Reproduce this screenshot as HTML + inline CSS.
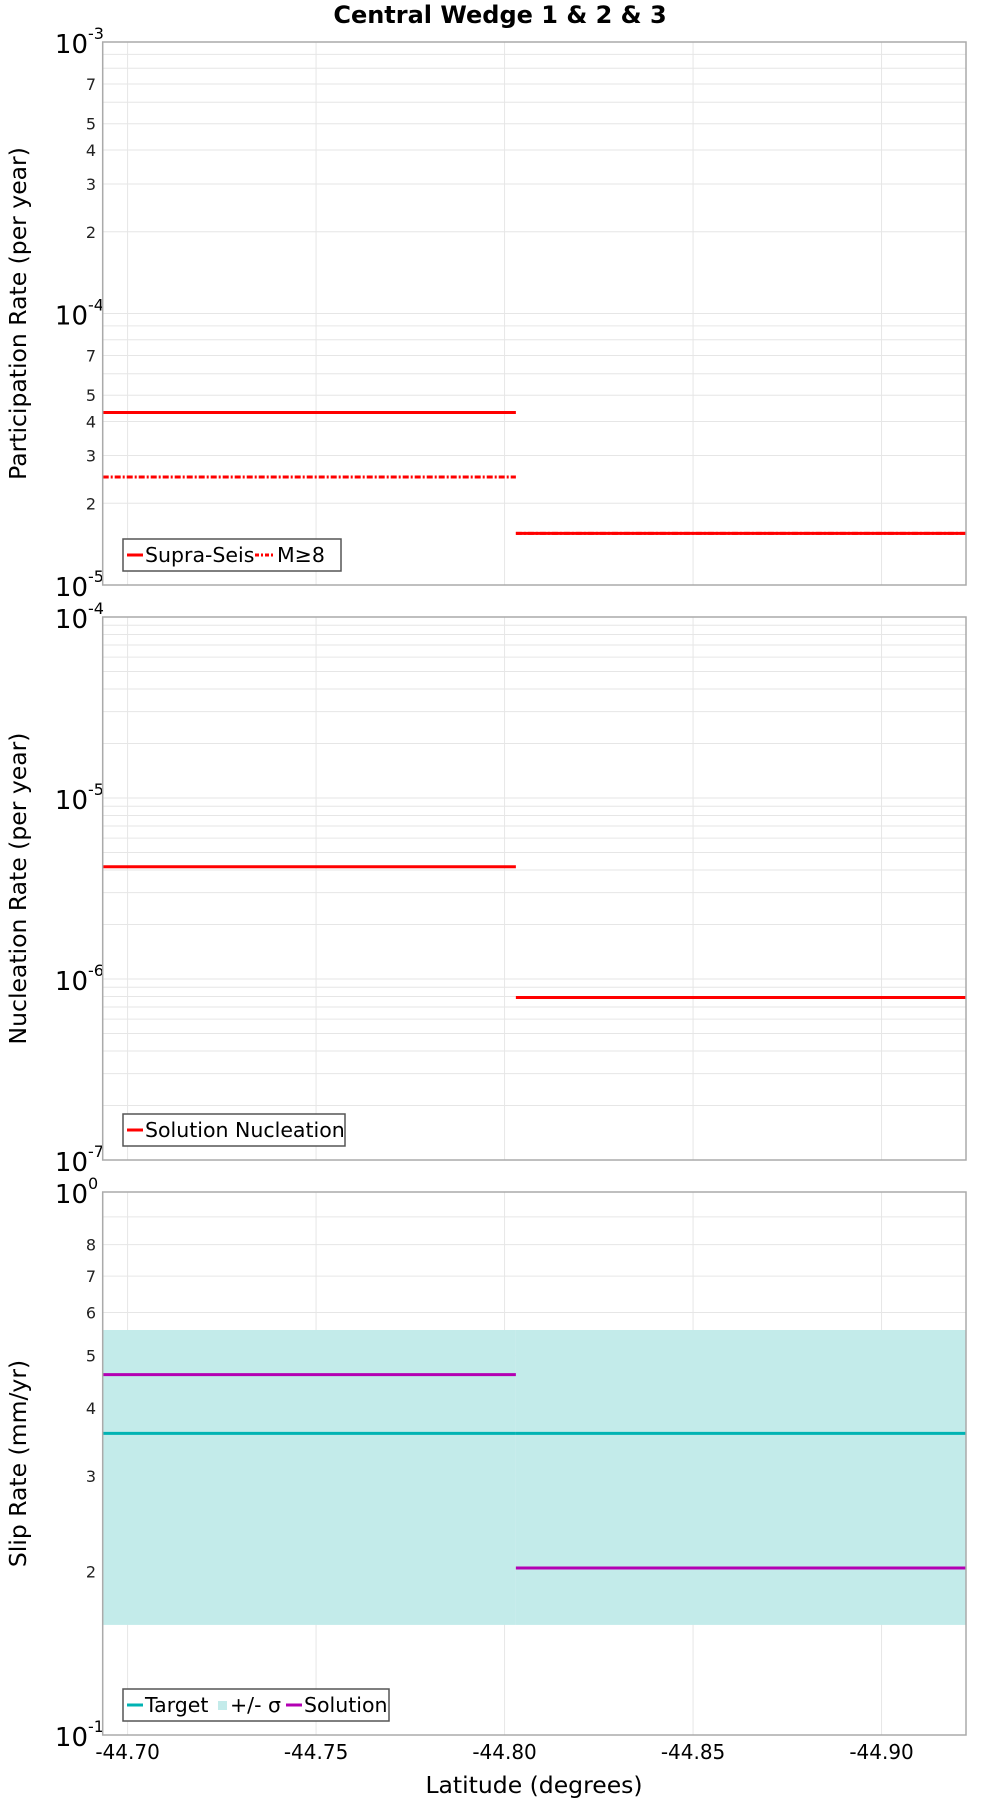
<!DOCTYPE html>
<html><head><meta charset="utf-8"><style>
body{margin:0;background:#fff;}
svg{display:block;font-family:"DejaVu Sans","Liberation Sans",sans-serif;}
</style></head><body>
<svg id="c" width="1000" height="1800" viewBox="0 0 1000 1800"></svg>
<script>
// data
const xTicks=[-44.70,-44.75,-44.80,-44.85,-44.90];
const xTickLabels=["-44.70","-44.75","-44.80","-44.85","-44.90"];
const segStarts=[-44.6934,-44.803];
const segEnds=[-44.803,-44.9224];
const supraSeis=[4.32e-5,1.55e-5];
const m8=[2.5e-5,1.55e-5];
const nucleation=[4.17e-6,7.9e-7];
const slipTarget=[0.3594,0.3594];
const slipSigmaHi=[0.557,0.557];
const slipSigmaLo=[0.1595,0.1595];
const slipSolution=[0.461,0.203];

const NS="http://www.w3.org/2000/svg";
const svg=document.getElementById('c');
function el(t,a,p){const e=document.createElementNS(NS,t);for(const k in a)e.setAttribute(k,a[k]);(p||svg).appendChild(e);return e;}
const L=102.7,R=966,X0=-44.6934,X1=-44.9224;
function xs(v){return L+(v-X0)/(X1-X0)*(R-L);}
const panels=[
 {top:42,bot:585,lo:-5,hi:-3,minorLabels:[2,3,4,5,7],title:"Participation Rate (per year)",name:"participation"},
 {top:617,bot:1160,lo:-7,hi:-4,minorLabels:[],title:"Nucleation Rate (per year)",name:"nucleation"},
 {top:1192,bot:1735,lo:-1,hi:0,minorLabels:[2,3,4,5,6,7,8],title:"Slip Rate (mm/yr)",name:"slip"}
];
panels.forEach(p=>{p.y=v=>p.bot-(Math.log10(v)-p.lo)/(p.hi-p.lo)*(p.bot-p.top);});

let t=el('text',{x:500,y:23,'text-anchor':'middle','font-size':24,'font-weight':'bold'});t.textContent="Central Wedge 1 & 2 & 3";


panels.forEach(p=>{
 const g=el('g',{});
 
 
 for(let d=p.lo;d<p.hi;d++){for(let m=1;m<10;m++){const v=m*Math.pow(10,d);const y=p.y(v);
  el('line',{x1:L,x2:R,y1:y,y2:y,stroke:'#e6e6e6','stroke-width':1},g);
  if(m>1&&p.minorLabels.includes(m)){const tx=el('text',{x:96,y:y+6,'text-anchor':'end','font-size':16,fill:'#222'},g);tx.textContent=m;
   }
 }}
 xTicks.forEach(v=>el('line',{x1:xs(v),x2:xs(v),y1:p.top,y2:p.bot,stroke:'#e6e6e6','stroke-width':1},g));
 for(let d=p.lo;d<=p.hi;d++){const y=p.y(Math.pow(10,d));
  const tx=el('text',{x:88,y:y+11,'text-anchor':'end','font-size':26},g);tx.textContent="10";
  
  const s=el('text',{x:88,y:y-3,'text-anchor':'start','font-size':16},g);s.textContent=d===0?"0":"-"+(-d);
 }
 const yt=el('text',{transform:`translate(26,${(p.top+p.bot)/2}) rotate(-90)`,'text-anchor':'middle','font-size':23.5},g);yt.textContent=p.title;
 
});

function seg(p,arr,color,dash,w,name){for(let i=0;i<arr.length;i++){const y=p.y(arr[i]);
 const ln=el('line',{x1:xs(segStarts[i]),x2:xs(segEnds[i]),y1:y,y2:y,stroke:color,'stroke-width':w});
 if(dash)ln.setAttribute('stroke-dasharray',dash);
 }}
const P=panels;
for(let i=0;i<slipSigmaHi.length;i++){const b=el('rect',{x:xs(segStarts[i]),width:xs(segEnds[i])-xs(segStarts[i]),y:P[2].y(slipSigmaHi[i]),height:P[2].y(slipSigmaLo[i])-P[2].y(slipSigmaHi[i]),fill:'#c3ebea'});
 }
seg(P[0],supraSeis,'#ff0000',null,3,'supra-seis-line');
seg(P[0],m8,'#ff0000','6,2,2,2',3,'m8-line');
seg(P[1],nucleation,'#ff0000',null,3,'nucleation-line');
seg(P[2],slipTarget,'#00b3b3',null,3,'target-line');
seg(P[2],slipSolution,'#b300b3',null,3,'solution-line');

P.forEach(p=>{const r=el('rect',{x:L,y:p.top,width:R-L,height:p.bot-p.top,fill:'none',stroke:'#aaa','stroke-width':1.5});
 });

xTicks.forEach((v,i)=>{const tx=el('text',{x:xs(v),y:1759,'text-anchor':'middle','font-size':20},null);tx.textContent=xTickLabels[i];
 });
const xt=el('text',{x:534,y:1793,'text-anchor':'middle','font-size':23.5});xt.textContent="Latitude (degrees)";


function legend(y,w,items,name){const g=el('g',{});
 
 el('rect',{x:123,y:y,width:w,height:32,fill:'#fff',stroke:'#555','stroke-width':1.5},g);
 let x=127;items.forEach(it=>{
  if(it.band)el('rect',{x:x+1,y:y+12,width:9,height:9,fill:'#c3ebea'},g);
  else{const l=el('line',{x1:x,x2:x+(it.dash?20:16),y1:y+16,y2:y+16,stroke:it.c,'stroke-width':3},g);if(it.dash)l.setAttribute('stroke-dasharray','4,2,2,2');}
  x+=it.dash?22:(it.band?13:18);
  const tx=el('text',{x:x,y:y+23,'font-size':20.5},g);tx.textContent=it.t;x+=it.tw;});
}
legend(539,218,[{c:'#f00',t:'Supra-Seis',tw:110},{c:'#f00',dash:1,t:'M≥8',tw:42}],'legend-participation');
legend(1114,222,[{c:'#f00',t:'Solution Nucleation',tw:200}],'legend-nucleation');
legend(1689,266,[{c:'#00b3b3',t:'Target',tw:72},{band:1,t:'+/- σ',tw:56},{c:'#b300b3',t:'Solution',tw:92}],'legend-slip');
</script>
</body></html>
